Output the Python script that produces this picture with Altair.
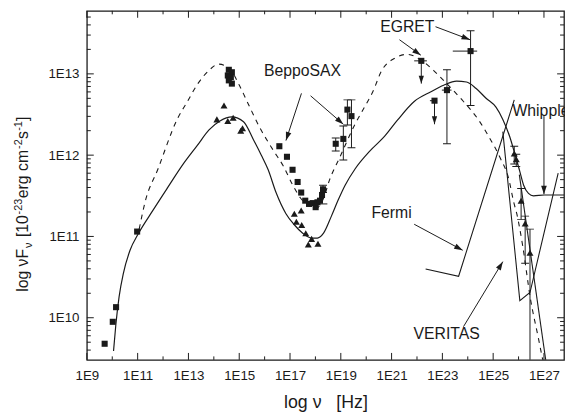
import math
import pandas as pd
import altair as alt

FONT = "Liberation Sans"
INK = "#1a1a1a"

# plot area geometry and log10 domains
W, H = 484, 354
LX_MIN, LX_MAX = 9.0, 27.79
LY_MIN, LY_MAX = 9.482, 13.775

# ---------------- model curves (log10 nu, log10 nuFnu) ----------------
solid_lx = [10.05, 10.14, 10.27, 10.44, 10.70, 11.02, 11.60, 12.18, 12.77, 13.35, 13.81, 14.24,
            14.71, 15.17, 15.56, 15.87, 16.14, 16.45, 16.84, 17.15, 17.50, 17.85, 18.08, 18.32,
            18.63, 18.90, 19.17, 19.56, 20.14, 20.72, 21.23, 21.89, 22.55, 23.05, 23.56, 23.95,
            24.33, 24.72, 25.11, 25.38, 25.65, 25.85, 26.04, 26.20, 26.39, 26.59, 27.01, 27.79]
solid_ly = [9.59, 9.91, 10.26, 10.55, 10.83, 11.03, 11.32, 11.60, 11.88, 12.12, 12.31, 12.42,
            12.47, 12.41, 12.19, 12.00, 11.82, 11.54, 11.28, 11.15, 11.04, 10.98, 10.98, 11.04,
            11.25, 11.45, 11.63, 11.83, 12.05, 12.23, 12.43, 12.66, 12.78, 12.86, 12.91, 12.90,
            12.82, 12.70, 12.59, 12.44, 12.23, 12.02, 11.81, 11.63, 11.53, 11.50, 11.51, 11.51]

dashed_lx = [11.06, 11.29, 11.80, 12.57, 12.96, 13.35, 13.80, 14.19, 14.63, 15.02, 15.37, 15.79,
             16.34, 16.73, 17.11, 17.42, 17.73, 18.05, 18.32, 18.55, 18.94, 19.56, 19.95, 20.26,
             20.61, 21.11, 21.62, 22.20, 22.66, 23.17, 23.83, 24.41, 24.88, 25.27, 25.62, 25.81,
             25.93, 26.16, 26.47, 26.78, 27.01]
dashed_ly = [11.09, 11.42, 11.83, 12.45, 12.66, 12.87, 13.04, 13.12, 13.06, 12.85, 12.62, 12.35,
             12.06, 11.87, 11.63, 11.47, 11.38, 11.35, 11.47, 11.69, 11.96, 12.38, 12.60, 12.78,
             13.04, 13.19, 13.24, 13.16, 13.04, 12.88, 12.66, 12.44, 12.20, 11.97, 11.70, 11.42,
             11.28, 10.89, 10.23, 9.75, 9.39]

# ---------------- observations ----------------
radio_sq_lx = [9.70, 10.02, 10.15, 10.98]
radio_sq_ly = [9.68, 9.95, 10.13, 11.06]

opt_sq_lx = [14.59, 14.71, 14.55, 14.67, 14.59, 14.71]
opt_sq_ly = [13.05, 13.02, 12.98, 12.96, 12.92, 12.88]
opt_tri_lx = [14.40, 14.12, 14.55, 14.76, 15.06, 15.13]
opt_tri_ly = [12.61, 12.44, 12.42, 12.46, 12.30, 12.33]

xray_sq_lx = [16.58, 16.88, 17.10, 17.30, 17.44, 17.60, 17.75, 17.89, 18.01, 18.08, 18.18, 18.26, 18.30]
xray_sq_ly = [12.11, 11.98, 11.82, 11.67, 11.54, 11.44, 11.40, 11.41, 11.36, 11.42, 11.44, 11.51, 11.58]
xray_err_lx = [18.30]
xray_err_lo = [11.54]
xray_err_hi = [11.63]
xray_hbar_lo = [17.89]
xray_hbar_hi = [18.47]
xray_hbar_ly = [11.40]
xray_tri_lx = [17.17, 17.44, 17.25, 17.46, 17.62, 17.85, 17.72, 18.10]
xray_tri_ly = [11.28, 11.32, 11.18, 11.14, 11.04, 10.97, 10.90, 10.91]

hx_lx = [18.80, 19.10, 19.26, 19.42]
hx_ly = [12.14, 12.20, 12.56, 12.48]
hx_lo = [12.05, 11.94, 12.37, 12.09]
hx_hi = [12.21, 12.36, 12.68, 12.68]

egret_lx = [22.17, 22.69, 23.18, 24.11]
egret_ly = [13.16, 12.67, 12.80, 13.28]
egret_xlo = [21.89, 22.51, 22.98, 23.41]
egret_xhi = [22.39, 22.69, 23.36, 24.37]
egret_det_lx = [23.18, 24.11]
egret_det_lo = [12.14, 12.61]
egret_det_hi = [13.05, 13.53]
egret_ul_lx = [22.17, 22.69]
egret_ul_ly = [13.16, 12.67]
egret_ul_tip = [12.88, 12.38]

tev_lx = [25.83, 25.91, 26.10, 26.26, 26.45]
tev_ly = [12.02, 11.95, 11.44, 11.16, 10.80]
tev_lo = [11.89, 11.86, 11.21, 10.67, 9.00]
tev_hi = [12.11, 12.01, 11.59, 11.25, 11.09]

# butterflies (segment id, log nu, log nuFnu)
bow_id = ["fermi", "fermi", "fermi", "ver1", "ver1", "ver1", "ver1", "ver2", "ver2"]
bow_lx = [22.34, 23.64, 25.83, 25.38, 26.05, 26.45, 27.56, 26.03, 27.12]
bow_ly = [10.60, 10.51, 12.68, 12.29, 10.21, 10.31, 11.78, 11.76, 9.37]

# annotations
ann_text = ["BeppoSAX", "EGRET", "Fermi", "VERITAS"]
ann_lx = [17.49, 21.62, 21.00, 23.17]
ann_ly = [13.04, 13.57, 11.29, 9.80]
whip_text = ["Whipple"]
whip_lx = [25.76]
whip_ly = [12.54]

arr_x1 = [17.45, 17.81, 22.73, 21.31, 21.89, 23.83, 27.00]
arr_y1 = [12.76, 12.73, 13.58, 13.42, 11.15, 9.89, 12.48]
arr_x2 = [16.84, 19.10, 24.09, 22.15, 23.80, 25.38, 27.00]
arr_y2 = [12.18, 12.38, 13.42, 13.23, 10.83, 10.69, 11.52]

# axis tick positions
x_major = [float(f"1e{e}") for e in range(9, 28, 2)]
x_minor = [float(f"1e{e}") for e in range(10, 28, 2)]
y_major = [1e10, 1e11, 1e12, 1e13]
y_minor = [m * float(f"1e{k}") for k in range(9, 14) for m in range(2, 10)
           if LY_MIN <= math.log10(m * float(f"1e{k}")) <= LY_MAX]

# y-axis title pieces: text, font size, baseline shift (px), advance (px)
ytitle = [("log\u00a0νF", 16, 0, 44.5), ("ν", 11, 4, 11.0), ("[10", 16, 0, 23.0),
          ("-23", 11, -6, 16.5), ("erg\u00a0cm", 16, 0, 50.0), ("-2", 11, -6, 10.0),
          ("s", 16, 0, 8.3), ("-1", 11, -6, 10.0), ("]", 16, 0, 5.0)]

# ---------------- helpers ----------------
XS = alt.Scale(type="log", domain=[10 ** LX_MIN, 10 ** LX_MAX], nice=False)
YS = alt.Scale(type="log", domain=[10 ** LY_MIN, 10 ** LY_MAX], nice=False)
PXD = W / (LX_MAX - LX_MIN)
PYD = H / (LY_MAX - LY_MIN)
ARROW = "M0,0L-0.33,1L0.33,1Z"

label_expr = "'1E' + round(log(datum.value) / LN10)"
X_AXIS = alt.Axis(values=x_major, labelExpr=label_expr, ticks=False, domain=False, grid=False,
                  labelFont=FONT, labelFontSize=13.5, labelColor=INK, labelPadding=9,
                  labelOverlap=False, labelFlush=False,
                  title="log\u00a0ν\u00a0\u00a0\u00a0[Hz]", titleFont=FONT, titleFontSize=18,
                  titleFontWeight="normal", titleColor=INK, titlePadding=12)
Y_AXIS = alt.Axis(values=y_major, labelExpr=label_expr, ticks=False, domain=False, grid=False,
                  labelFont=FONT, labelFontSize=13.5, labelColor=INK, labelPadding=8,
                  labelOverlap=False, labelFlush=False, title=None)


def tolin(v):
    return [10 ** a for a in v]


def ex(field="nu"):
    return alt.X(f"{field}:Q", scale=XS, axis=X_AXIS)


def ey(field="f"):
    return alt.Y(f"{field}:Q", scale=YS, axis=Y_AXIS)


def head_angle(x1, y1, x2, y2):
    dx = (x2 - x1) * PXD
    dy = -(y2 - y1) * PYD
    return math.degrees(math.atan2(dx, -dy)) % 360


layers = []

# model curves
layers.append(alt.Chart(pd.DataFrame({"nu": tolin(solid_lx), "f": tolin(solid_ly)}))
              .mark_line(color=INK, strokeWidth=1.2, clip=True, interpolate="monotone")
              .encode(x=ex(), y=ey()))
layers.append(alt.Chart(pd.DataFrame({"nu": tolin(dashed_lx), "f": tolin(dashed_ly)}))
              .mark_line(color=INK, strokeWidth=1.1, strokeDash=[5, 5], clip=True, interpolate="monotone")
              .encode(x=ex(), y=ey()))

# butterflies
layers.append(alt.Chart(pd.DataFrame({"id": bow_id, "nu": tolin(bow_lx), "f": tolin(bow_ly),
                                      "o": list(range(len(bow_id)))}))
              .mark_line(color=INK, strokeWidth=1.1, clip=True)
              .encode(x=ex(), y=ey(), detail="id:N", order="o:Q"))

# vertical error bars
vbars = pd.DataFrame({
    "nu": tolin(xray_err_lx + hx_lx + egret_det_lx + tev_lx),
    "lo": tolin(xray_err_lo + hx_lo + egret_det_lo + tev_lo),
    "hi": tolin(xray_err_hi + hx_hi + egret_det_hi + tev_hi),
})
layers.append(alt.Chart(vbars).mark_rule(color=INK, strokeWidth=1, clip=True)
              .encode(x=ex(), y=ey("lo"), y2=alt.Y2("hi:Q")))
for fld in ["lo", "hi"]:
    layers.append(alt.Chart(vbars).mark_tick(orient="horizontal", size=8, thickness=1, color=INK,
                                             clip=True, opacity=1)
                  .encode(x=ex(), y=ey(fld)))

# horizontal error bars
hbars = pd.DataFrame({
    "lo": tolin(egret_xlo + xray_hbar_lo),
    "hi": tolin(egret_xhi + xray_hbar_hi),
    "f": tolin(egret_ly + xray_hbar_ly),
})
layers.append(alt.Chart(hbars).mark_rule(color=INK, strokeWidth=1, clip=True)
              .encode(x=ex("lo"), x2=alt.X2("hi:Q"), y=ey()))

# upper limits
ul = pd.DataFrame({"nu": tolin(egret_ul_lx), "f": tolin(egret_ul_ly), "tip": tolin(egret_ul_tip),
                   "ang": [180.0] * len(egret_ul_lx)})
layers.append(alt.Chart(ul).mark_rule(color=INK, strokeWidth=1)
              .encode(x=ex(), y=ey(), y2=alt.Y2("tip:Q")))
layers.append(alt.Chart(ul).mark_point(shape=ARROW, filled=True, size=260, color=INK, opacity=1)
              .encode(x=ex(), y=ey("tip"), angle=alt.Angle("ang:Q", scale=None)))

# squares and triangles
sq = pd.DataFrame({"nu": tolin(radio_sq_lx + opt_sq_lx + xray_sq_lx + hx_lx + egret_lx),
                   "f": tolin(radio_sq_ly + opt_sq_ly + xray_sq_ly + hx_ly + egret_ly)})
layers.append(alt.Chart(sq).mark_point(shape="square", filled=True, size=38, color=INK, opacity=1)
              .encode(x=ex(), y=ey()))
tri = pd.DataFrame({"nu": tolin(opt_tri_lx + xray_tri_lx + tev_lx),
                    "f": tolin(opt_tri_ly + xray_tri_ly + tev_ly)})
layers.append(alt.Chart(tri).mark_point(shape="triangle-up", filled=True, size=50, color=INK, opacity=1)
              .encode(x=ex(), y=ey()))

# annotation arrows
arr = pd.DataFrame({"nu": tolin(arr_x1), "f": tolin(arr_y1), "nu2": tolin(arr_x2), "f2": tolin(arr_y2),
                    "ang": [head_angle(a, b, c, d) for a, b, c, d in zip(arr_x1, arr_y1, arr_x2, arr_y2)]})
layers.append(alt.Chart(arr).mark_rule(color=INK, strokeWidth=1)
              .encode(x=ex(), y=ey(), x2=alt.X2("nu2:Q"), y2=alt.Y2("f2:Q")))
layers.append(alt.Chart(arr).mark_point(shape=ARROW, filled=True, size=300, color=INK, opacity=1)
              .encode(x=ex("nu2"), y=ey("f2"), angle=alt.Angle("ang:Q", scale=None)))

# annotation texts
layers.append(alt.Chart(pd.DataFrame({"t": ann_text, "nu": tolin(ann_lx), "f": tolin(ann_ly)}))
              .mark_text(font=FONT, fontSize=16, color=INK, align="center", baseline="middle")
              .encode(x=ex(), y=ey(), text="t:N"))
layers.append(alt.Chart(pd.DataFrame({"t": whip_text, "nu": tolin(whip_lx), "f": tolin(whip_ly)}))
              .mark_text(font=FONT, fontSize=16, color=INK, align="left", baseline="middle")
              .encode(x=ex(), y=ey(), text="t:N"))

# axis ticks (inward, mirrored on all four sides)
for vals, ln in [(x_major, 7), (x_minor, 3.5)]:
    d = pd.DataFrame({"nu": vals})
    layers.append(alt.Chart(d).mark_rule(color=INK, strokeWidth=1)
                  .encode(x=ex(), y=alt.value(H), y2=alt.value(H - ln)))
    layers.append(alt.Chart(d).mark_rule(color=INK, strokeWidth=1)
                  .encode(x=ex(), y=alt.value(0), y2=alt.value(ln)))
for vals, ln in [(y_major, 7), (y_minor, 4)]:
    d = pd.DataFrame({"f": vals})
    layers.append(alt.Chart(d).mark_rule(color=INK, strokeWidth=1)
                  .encode(y=ey(), x=alt.value(0), x2=alt.value(ln)))
    layers.append(alt.Chart(d).mark_rule(color=INK, strokeWidth=1)
                  .encode(y=ey(), x=alt.value(W), x2=alt.value(W - ln)))

# y-axis title built from pieces (rotated)
ypos = 285.0
base_x = -60.0
one = pd.DataFrame({"k": [0]})
for txt, fs, shift, adv in ytitle:
    layers.append(alt.Chart(one).mark_text(text=txt, font=FONT, fontSize=fs, color=INK, angle=270,
                                           align="left", baseline="alphabetic")
                  .encode(x=alt.value(base_x + shift), y=alt.value(ypos)))
    ypos -= adv

chart = (alt.layer(*layers)
         .properties(width=W, height=H, autosize=alt.AutoSizeParams(type="none"),
                     padding={"left": 80, "top": 0, "right": 1, "bottom": 50})
         .configure_view(stroke=INK, strokeWidth=1.3))

chart.save("out.html", embed_options={"renderer": "svg", "actions": False})
